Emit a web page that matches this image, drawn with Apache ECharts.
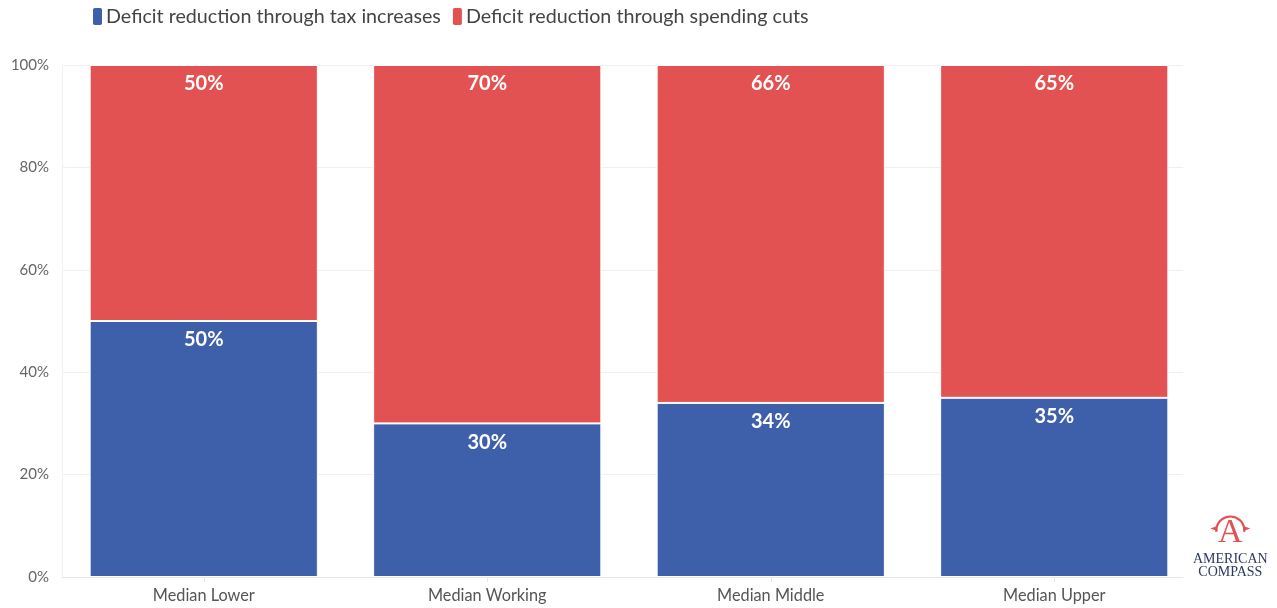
<!DOCTYPE html>
<html>
<head>
<meta charset="utf-8">
<script src="https://cdn.jsdelivr.net/npm/echarts@6/dist/echarts.min.js"></script>
<style>
  html, body { margin: 0; padding: 0; background: #fff; }
  #chart { width: 1277px; height: 608px; }
</style>
</head>
<body>
<div id="chart"></div>
<script>
// Income groups along the x axis
const categories = ['Median Lower', 'Median Working', 'Median Middle', 'Median Upper'];
// Share of deficit reduction (percent)
const taxIncreases = [50, 30, 34, 35];
const spendingCuts = [50, 70, 66, 65];
const seriesNames = ['Deficit reduction through tax increases', 'Deficit reduction through spending cuts'];
const yTicks = [0, 20, 40, 60, 80, 100];

const FONT = 'Lato, "Open Sans", sans-serif';
const BLUE = '#3e5fa9';
const RED = '#e35253';
const NAVY = '#2d3a5e';
const GRID_LINE = '#f0f0f0';

const chart = echarts.init(document.getElementById('chart'), null, { renderer: 'canvas' });

const segLabel = {
  show: true,
  position: 'insideTop',
  distance: 9,
  color: '#fff',
  fontFamily: FONT,
  fontWeight: 'bold',
  fontSize: 20,
  formatter: p => p.value + '%'
};

const yMin = yTicks[0];
const yMax = yTicks[yTicks.length - 1];

chart.setOption({
  animation: false,
  backgroundColor: '#fff',
  legend: {
    left: 86,
    top: 1,
    itemWidth: 11,
    itemHeight: 19,
    itemGap: 10,
    icon: 'roundRect',
    textStyle: { fontFamily: FONT, fontSize: 19.7, color: '#444', padding: [0, 0, 0, -2] },
    data: seriesNames
  },
  grid: [
    // frame: value gridlines and axis lines
    { left: 62, right: 94, top: 65, bottom: 31 },
    // bars
    { left: 62, right: 81, top: 65, bottom: 31 }
  ],
  xAxis: [
    {
      gridIndex: 0,
      type: 'category',
      data: categories,
      axisLine: { lineStyle: { color: '#e6e6e6' } },
      axisTick: { show: false },
      axisLabel: { show: false }
    },
    {
      gridIndex: 1,
      type: 'category',
      data: categories,
      axisLine: { show: false },
      axisTick: { show: true, alignWithLabel: true, length: 5, lineStyle: { color: '#e6e6e6' } },
      axisLabel: { fontFamily: FONT, fontSize: 16.3, color: '#555', margin: 11 }
    }
  ],
  yAxis: [
    {
      gridIndex: 0,
      type: 'value',
      min: yMin,
      max: yMax,
      interval: 20,
      axisLine: { show: true, lineStyle: { color: GRID_LINE } },
      axisTick: { show: false },
      splitLine: { lineStyle: { color: GRID_LINE } },
      axisLabel: { fontFamily: FONT, fontSize: 15, color: '#666', margin: 13, formatter: v => v + '%' }
    },
    {
      gridIndex: 1,
      type: 'value',
      min: yMin,
      max: yMax,
      show: false,
      splitLine: { show: false }
    }
  ],
  series: [
    {
      name: seriesNames[0],
      type: 'bar',
      xAxisIndex: 1,
      yAxisIndex: 1,
      stack: 'total',
      barCategoryGap: '19.5%',
      data: taxIncreases,
      itemStyle: { color: BLUE, borderColor: '#ffffff', borderWidth: 1 },
      label: segLabel
    },
    {
      name: seriesNames[1],
      type: 'bar',
      xAxisIndex: 1,
      yAxisIndex: 1,
      stack: 'total',
      barCategoryGap: '19.5%',
      data: spendingCuts,
      itemStyle: { color: RED, borderColor: '#ffffff', borderWidth: 1 },
      label: segLabel
    }
  ],
  graphic: [
    {
      type: 'group',
      left: 1193,
      top: 514,
      children: [
        // compass emblem: ring with side points and a serif "A"
        {
          type: 'arc',
          shape: { cx: 38, cy: 16, r: 14, startAngle: Math.PI * 0.97, endAngle: Math.PI * 2.03 },
          style: { stroke: RED, lineWidth: 2.2, fill: null }
        },
        {
          type: 'polygon',
          shape: { points: [[18, 14], [25, 11.5], [25, 16.5]] },
          style: { fill: RED }
        },
        {
          type: 'polygon',
          shape: { points: [[58, 14], [51, 11.5], [51, 16.5]] },
          style: { fill: RED }
        },
        {
          type: 'text',
          style: {
            text: 'A', x: 38, y: 19, align: 'center', verticalAlign: 'middle',
            font: '34px "Liberation Serif", serif', fill: RED
          }
        },
        {
          type: 'text',
          style: {
            text: 'AMERICAN', x: 38, y: 45, align: 'center', verticalAlign: 'middle',
            font: '14px "Liberation Serif", serif', fill: NAVY
          }
        },
        {
          type: 'text',
          style: {
            text: 'COMPASS', x: 38, y: 58, align: 'center', verticalAlign: 'middle',
            font: '14px "Liberation Serif", serif', fill: NAVY
          }
        }
      ]
    }
  ]
});
</script>
</body>
</html>
